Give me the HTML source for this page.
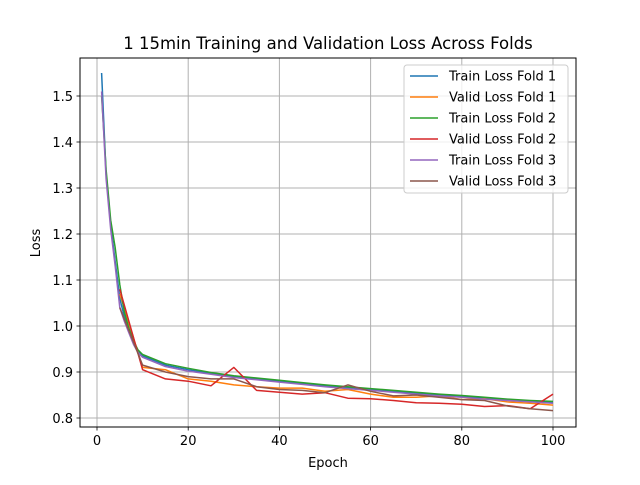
<!DOCTYPE html>
<html><head><meta charset="utf-8"><style>
body{margin:0;background:#fff}
svg{font-family:"DejaVu Sans","Liberation Sans",sans-serif}
</style></head><body>
<svg id="chart" width="640" height="480" xmlns="http://www.w3.org/2000/svg">
<rect width="640" height="480" fill="#fff"/>
<g id="grid"></g><g id="series"></g><g id="axes"></g>
<text x="328" y="49" text-anchor="middle" font-size="16.5">1 15min Training and Validation Loss Across Folds</text>
<text x="328" y="467" text-anchor="middle" font-size="13">Epoch</text>
<text x="40" y="243" text-anchor="middle" font-size="13" transform="rotate(-90 40 243)">Loss</text>
<g id="legend"></g>
</svg>
<script>
const trainEpochs=[1,2,3,4,5,6,7,8,9,10,15,20,25,30,35,40,45,50,55,60,65,70,75,80,85,90,95,100];
const validEpochs=[5,10,15,20,25,30,35,40,45,50,55,60,65,70,75,80,85,90,95,100];
const train1=[1.55,1.33,1.22,1.14,1.06,1.02,0.99,0.965,0.945,0.935,0.915,0.905,0.897,0.89,0.885,0.88,0.875,0.87,0.866,0.862,0.858,0.854,0.85,0.847,0.843,0.84,0.837,0.834];
const valid1=[1.07,0.91,0.905,0.885,0.88,0.872,0.868,0.865,0.865,0.858,0.862,0.852,0.845,0.845,0.848,0.84,0.842,0.835,0.832,0.828];
const train2=[1.50,1.34,1.23,1.17,1.09,1.03,0.995,0.968,0.948,0.938,0.918,0.908,0.899,0.892,0.887,0.882,0.877,0.872,0.868,0.864,0.86,0.856,0.852,0.849,0.845,0.841,0.838,0.836];
const valid2=[1.08,0.905,0.885,0.88,0.87,0.91,0.86,0.856,0.852,0.855,0.843,0.842,0.838,0.833,0.832,0.83,0.825,0.827,0.82,0.852];
const train3=[1.51,1.32,1.21,1.13,1.04,1.01,0.985,0.96,0.942,0.932,0.912,0.902,0.895,0.888,0.883,0.878,0.873,0.868,0.864,0.86,0.856,0.852,0.848,0.845,0.841,0.838,0.835,0.832];
const valid3=[1.04,0.915,0.9,0.89,0.885,0.885,0.868,0.862,0.86,0.855,0.872,0.858,0.848,0.85,0.845,0.84,0.838,0.826,0.82,0.816];
const xTicks=[0,20,40,60,80,100];
const yTicks=[0.8,0.9,1.0,1.1,1.2,1.3,1.4,1.5];
const seriesNames=["Train Loss Fold 1","Valid Loss Fold 1","Train Loss Fold 2","Valid Loss Fold 2","Train Loss Fold 3","Valid Loss Fold 3"];
const colors=["#1f77b4","#ff7f0e","#2ca02c","#d62728","#9467bd","#8c564b"];
const L=80,R=576,T=58,B=427;
const xs=v=>97+(v-0)*4.56;
const ys=v=>418-(v-0.8)*460;
const NS="http://www.w3.org/2000/svg";
function mk(t,a,p){const e=document.createElementNS(NS,t);for(const k in a)e.setAttribute(k,a[k]);p.appendChild(e);return e;}
const grid=document.getElementById('grid'),axes=document.getElementById('axes'),ser=document.getElementById('series'),leg=document.getElementById('legend');
xTicks.forEach(t=>{const x=xs(t);
 const g=mk('line',{x1:x,x2:x,y1:T,y2:B,stroke:'#b0b0b0','stroke-width':1},grid);
 
 mk('line',{x1:x,x2:x,y1:B,y2:B+3.5,stroke:'#000','stroke-width':0.8},axes);
 const tx=mk('text',{x:x,y:B+18,'text-anchor':'middle','font-size':13},axes);tx.textContent=t;
 });
yTicks.forEach(t=>{const y=ys(t);
 const g=mk('line',{x1:L,x2:R,y1:y,y2:y,stroke:'#b0b0b0','stroke-width':1},grid);
 
 mk('line',{x1:L-3.5,x2:L,y1:y,y2:y,stroke:'#000','stroke-width':0.8},axes);
 const tx=mk('text',{x:L-7,y:y+5,'text-anchor':'end','font-size':13},axes);tx.textContent=t.toFixed(1);
 });
const fr=mk('rect',{x:L,y:T,width:R-L,height:B-T,fill:'none',stroke:'#000','stroke-width':1},axes);

const data=[[trainEpochs,train1],[validEpochs,valid1],[trainEpochs,train2],[validEpochs,valid2],[trainEpochs,train3],[validEpochs,valid3]];
data.forEach((d,i)=>{const pts=d[0].map((e,j)=>xs(e).toFixed(1)+','+ys(d[1][j]).toFixed(1)).join(' ');
 const p=mk('polyline',{points:pts,fill:'none',stroke:colors[i],'stroke-width':1.5,'stroke-linejoin':'round'},ser);
 });
const lb=mk('rect',{x:404,y:65,width:164,height:128,fill:'#fff','fill-opacity':0.8,stroke:'#ccc',rx:3},leg);

seriesNames.forEach((n,i)=>{const y=76+i*21;
 const ln=mk('line',{x1:410,x2:438,y1:y,y2:y,stroke:colors[i],'stroke-width':1.5},leg);
 
 const tx=mk('text',{x:449,y:y+4.5,'font-size':13},leg);tx.textContent=n;
 });
</script>
</body></html>
